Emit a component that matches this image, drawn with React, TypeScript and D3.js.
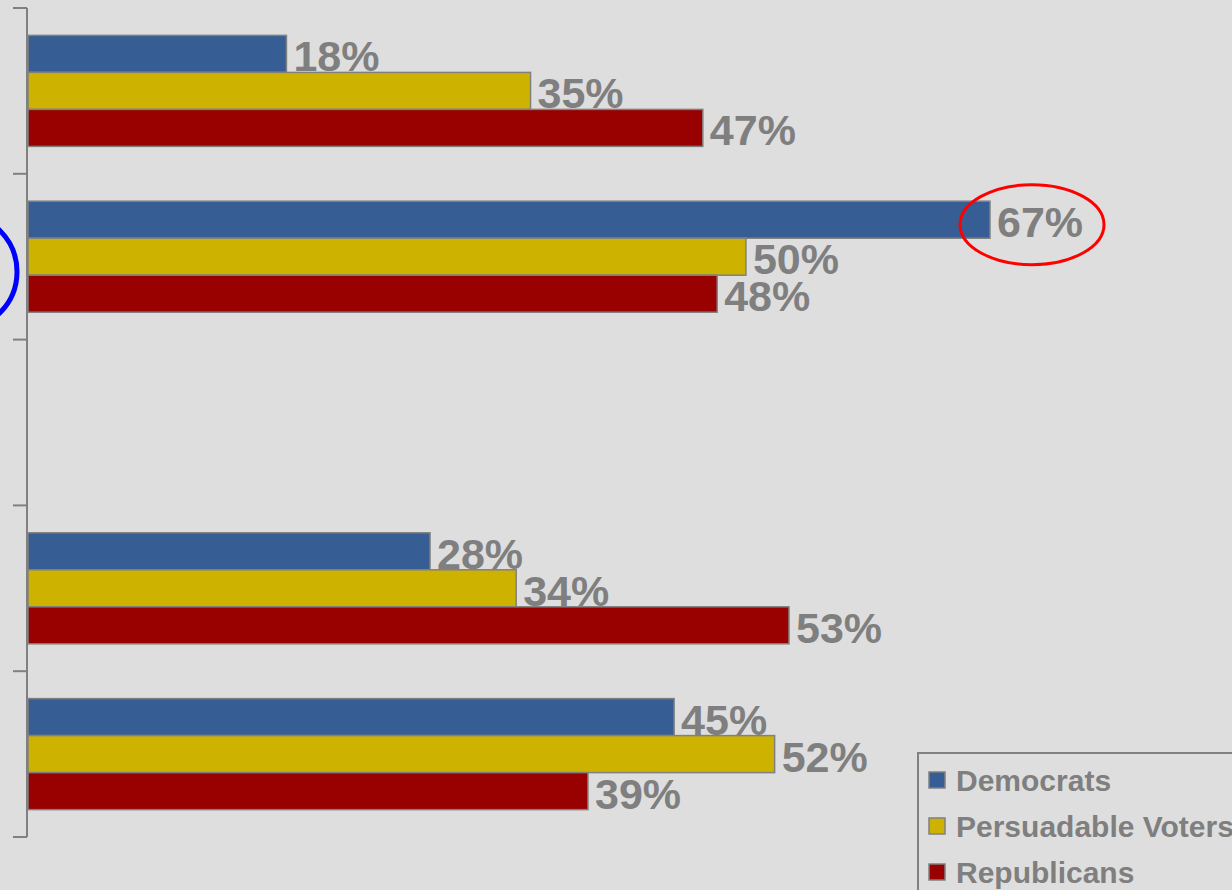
import React from 'react';
import * as d3 from 'd3';

// chart values
const categories = ["Group 1", "Group 2", "Group 3", "Group 4", "Group 5"];
const seriesNames = ["Democrats", "Persuadable Voters", "Republicans"];
const democrats = [18, 67, null, 28, 45];
const persuadable = [35, 50, null, 34, 52];
const republicans = [47, 48, null, 53, 39];
const seriesColors = ["#365e94", "#cdb300", "#990000"];

const width = 1232;
const height = 890;
const grey = "#7f7f7f";

export default function App() {
    const ref = React.useRef<SVGSVGElement>(null);

    React.useEffect(() => {
        document.body.style.margin = "0";
        const svg = d3.select(ref.current);
        svg.selectAll('*').remove();

        const values = [democrats, persuadable, republicans];
        const rows = categories.map((c, i) => ({
            category: c,
            bars: seriesNames.map((s, j) => ({ series: s, value: values[j][i], color: seriesColors[j] }))
        }));

        const x = d3.scaleLinear().domain([0, 67]).range([28, 990]);
        const y0 = d3.scaleBand().domain(categories).range([8, 837]).padding(0);
        const y1 = d3.scaleBand().domain(seriesNames).range([0, y0.bandwidth()]).paddingInner(0).paddingOuter(0.74);

        svg.append("rect").attr("width", width).attr("height", height).attr("fill", "#dedede");

        // axis: vertical line with ticks at the band edges
        const edges = d3.range(categories.length + 1).map(i => 8 + i * y0.step());
        const axis = svg.append("g").attr("stroke", "#808080").attr("stroke-width", 2);
        axis.append("line").attr("x1", 27).attr("x2", 27).attr("y1", edges[0]).attr("y2", edges[edges.length - 1]);
        axis.selectAll(".tick").data(edges).join("line")
            .attr("class", "tick")
            .attr("x1", 13).attr("x2", 27)
            .attr("y1", d => d).attr("y2", d => d);

        const groups = svg.append("g").selectAll("g")
            .data(rows)
            .join("g")
            .attr("transform", d => `translate(0,${y0(d.category)})`);

        const bars = groups.selectAll("g")
            .data(d => d.bars.filter(b => b.value != null))
            .join("g");

        bars.append("rect")
            .attr("x", x(0))
            .attr("y", d => y1(d.series)!)
            .attr("width", d => x(d.value!) - x(0))
            .attr("height", y1.bandwidth())
            .attr("fill", d => d.color)
            .attr("stroke", "#808080")
            .attr("stroke-width", 1.5);

        bars.append("text")
            .attr("x", d => x(d.value!) + 7)
            .attr("y", d => y1(d.series)! + y1.bandwidth() - 1)
            .attr("font-family", "Liberation Sans, Arial, sans-serif")
            .attr("font-weight", "bold")
            .attr("font-size", 43)
            .attr("fill", grey)
            .text(d => `${d.value}%`);

        // red ellipse around the 67% label
        const yHi = y0(categories[1])! + y1(seriesNames[0])! + y1.bandwidth() / 2;
        svg.append("ellipse")
            .attr("cx", x(67) + 42)
            .attr("cy", yHi + 5)
            .attr("rx", 72)
            .attr("ry", 40)
            .attr("fill", "none")
            .attr("stroke", "#ff0000")
            .attr("stroke-width", 3);

        // blue circle on the left edge, beside group 2
        svg.append("circle")
            .attr("cx", -41)
            .attr("cy", y0(categories[1])! + y0.bandwidth() / 2 + 15)
            .attr("r", 58)
            .attr("fill", "none")
            .attr("stroke", "#0000ff")
            .attr("stroke-width", 5);

        // legend
        const legend = svg.append("g").attr("transform", "translate(918,753)");
        legend.append("rect")
            .attr("width", 400).attr("height", 200)
            .attr("fill", "#dedede")
            .attr("stroke", "#808080")
            .attr("stroke-width", 2);
        const items = legend.selectAll(".item")
            .data(seriesNames)
            .join("g")
            .attr("class", "item")
            .attr("transform", (d, i) => `translate(0,${i * 46})`);
        items.append("rect")
            .attr("x", 11).attr("y", 19)
            .attr("width", 16).attr("height", 16)
            .attr("fill", (d, i) => seriesColors[i])
            .attr("stroke", "#808080")
            .attr("stroke-width", 1.5);
        items.append("text")
            .attr("x", 38).attr("y", 38)
            .attr("font-family", "Liberation Sans, Arial, sans-serif")
            .attr("font-weight", "bold")
            .attr("font-size", 30)
            .attr("fill", grey)
            .text(d => d);
    }, []);

    return <svg ref={ref} width={width} height={height} style={{ display: "block" }} />;
}
